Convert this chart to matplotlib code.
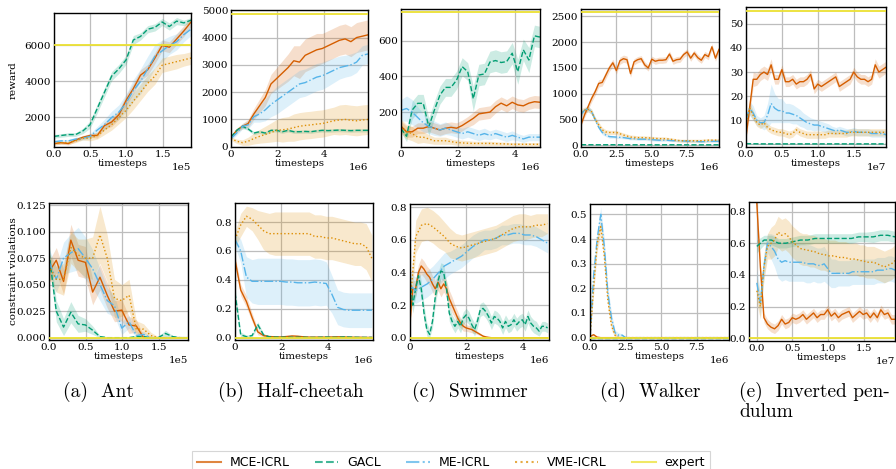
import numpy as np
import matplotlib
matplotlib.use("Agg")
import matplotlib.pyplot as plt
from matplotlib.ticker import MultipleLocator
from matplotlib.lines import Line2D

plt.rcParams["font.family"] = ["DejaVu Serif"]
plt.rcParams["axes.unicode_minus"] = False

methods = ["MCE-ICRL", "GACL", "ME-ICRL", "VME-ICRL"]
colors = ["#d55e00", "#029e73", "#56b4e9", "#de8f05"]
styles = ["-", "--", "-.", ":"]
expert_color = "#ece133"

envs = ["Ant", "Half-cheetah", "Swimmer", "Walker", "Inverted pendulum"]
captions = ["(a)  Ant", "(b)  Half-cheetah", "(c)  Swimmer", "(d)  Walker",
            "(e)  Inverted pen-"]
caption_extra = "dulum"

# training length (timesteps) per environment
max_steps = [1.89e5, 5.9e6, 4.88e6, 9.8e6, 1.94e7]

expert_reward = [6000, 4870, 760, 2590, 55.5]
expert_cv = [0.0, 0.0, 0.0, 0.0, 0.0]

# ---------------- Ant ----------------
ant_rew_mce = [550, 600, 550, 750, 900, 1000, 1000, 1550, 1750, 2150, 2950, 3600, 4350, 4650, 5300, 6000, 5900, 6350, 6800, 7300]
ant_rew_mce_sd = [80, 80, 80, 100, 100, 100, 150, 200, 250, 250, 300, 300, 300, 300, 300, 300, 300, 300, 300, 250]
ant_rew_gacl = [950, 1000, 1050, 1050, 1250, 1600, 2500, 3400, 4300, 4700, 5200, 6300, 6500, 6900, 7000, 7300, 7050, 7350, 7250, 7400]
ant_rew_gacl_sd = [100, 100, 100, 100, 150, 200, 250, 250, 250, 250, 250, 250, 200, 200, 200, 200, 200, 200, 150, 150]
ant_rew_me = [650, 700, 700, 800, 850, 950, 1300, 1600, 2000, 2300, 2800, 3500, 4000, 4700, 5400, 5700, 6000, 6200, 6600, 6900]
ant_rew_me_sd = [80, 80, 80, 100, 100, 150, 200, 300, 350, 400, 500, 600, 700, 700, 650, 600, 500, 450, 400, 350]
ant_rew_vme = [550, 600, 600, 700, 850, 850, 1000, 1300, 1600, 2000, 2400, 2900, 3400, 3900, 4300, 4900, 5000, 5100, 5200, 5300]
ant_rew_vme_sd = [80, 80, 80, 100, 100, 150, 200, 250, 300, 350, 400, 450, 450, 450, 450, 400, 400, 400, 350, 350]

ant_cv_mce = [0.062, 0.073, 0.053, 0.092, 0.073, 0.071, 0.043, 0.057, 0.040, 0.025, 0.026, 0.012, 0.011, 0.0, 0.0, 0.0, 0.0, 0.0, 0.0, 0.0]
ant_cv_mce_sd = [0.010, 0.012, 0.012, 0.015, 0.015, 0.015, 0.012, 0.012, 0.012, 0.010, 0.010, 0.008, 0.006, 0.002, 0.001, 0.001, 0.001, 0.001, 0.001, 0.001]
ant_cv_gacl = [0.080, 0.025, 0.010, 0.024, 0.013, 0.012, 0.007, 0.001, 0.0, 0.0, 0.0, 0.0, 0.001, 0.001, 0.0, 0.0, 0.004, 0.001, 0.0, 0.0]
ant_cv_gacl_sd = [0.010, 0.010, 0.008, 0.010, 0.008, 0.006, 0.004, 0.001, 0.001, 0.001, 0.001, 0.001, 0.001, 0.001, 0.001, 0.001, 0.003, 0.001, 0.001, 0.001]
ant_cv_me = [0.072, 0.055, 0.075, 0.080, 0.084, 0.075, 0.065, 0.050, 0.035, 0.030, 0.009, 0.015, 0.002, 0.003, 0.0, 0.0, 0.0, 0.0, 0.0, 0.0]
ant_cv_me_sd = [0.012, 0.012, 0.015, 0.018, 0.020, 0.020, 0.018, 0.015, 0.012, 0.010, 0.006, 0.006, 0.003, 0.003, 0.001, 0.001, 0.001, 0.001, 0.001, 0.001]
ant_cv_vme = [0.068, 0.055, 0.055, 0.085, 0.078, 0.075, 0.075, 0.097, 0.075, 0.037, 0.035, 0.040, 0.008, 0.008, 0.002, 0.0, 0.0, 0.0, 0.0, 0.0]
ant_cv_vme_sd = [0.012, 0.012, 0.015, 0.015, 0.015, 0.018, 0.020, 0.027, 0.022, 0.018, 0.015, 0.015, 0.008, 0.005, 0.003, 0.001, 0.001, 0.001, 0.001, 0.001]

# ---------------- Half-cheetah ----------------
hc_rew_mce = [350, 600, 750, 850, 1200, 1500, 1800, 2300, 2500, 2700, 2900, 3150, 3100, 3350, 3450, 3550, 3600, 3700, 3800, 3900, 3950, 3850, 4000, 4050, 4100]
hc_rew_mce_sd = [50, 80, 100, 150, 200, 250, 300, 350, 400, 450, 500, 550, 600, 600, 600, 600, 550, 550, 550, 550, 550, 550, 550, 550, 550]
hc_rew_gacl = [350, 600, 750, 650, 500, 550, 500, 600, 600, 550, 600, 550, 550, 560, 550, 580, 600, 590, 600, 610, 600, 590, 600, 600, 600]
hc_rew_gacl_sd = [40, 50, 60, 60, 60, 60, 60, 60, 60, 60, 60, 60, 60, 60, 60, 60, 60, 60, 60, 60, 60, 60, 60, 60, 60]
hc_rew_me = [300, 500, 750, 800, 1100, 1200, 1350, 1550, 1700, 1850, 2000, 2150, 2300, 2350, 2450, 2550, 2600, 2700, 2800, 2900, 2950, 3000, 3100, 3350, 3400]
hc_rew_me_sd = [50, 80, 100, 150, 200, 300, 400, 450, 500, 500, 500, 500, 500, 500, 500, 500, 500, 480, 450, 420, 400, 400, 380, 350, 350]
hc_rew_vme = [300, 200, 150, 200, 300, 380, 450, 520, 600, 620, 650, 700, 750, 780, 800, 830, 850, 900, 950, 980, 1000, 970, 950, 980, 1000]
hc_rew_vme_sd = [60, 80, 100, 150, 200, 250, 300, 350, 400, 450, 450, 500, 500, 500, 500, 500, 500, 500, 500, 550, 550, 550, 550, 550, 550]

hc_cv_mce = [0.54, 0.33, 0.25, 0.14, 0.04, 0.015, 0.008, 0.006, 0.005, 0.008, 0.012, 0.010, 0.006, 0.004, 0.004, 0.004, 0.004, 0.005, 0.006, 0.005, 0.004, 0.003, 0.003, 0.002, 0.002]
hc_cv_mce_sd = [0.03, 0.04, 0.04, 0.03, 0.02, 0.01, 0.005, 0.005, 0.005, 0.005, 0.006, 0.006, 0.005, 0.004, 0.004, 0.004, 0.004, 0.004, 0.004, 0.004, 0.004, 0.003, 0.003, 0.002, 0.002]
hc_cv_gacl = [0.31, 0.02, 0.007, 0.015, 0.09, 0.02, 0.006, 0.004, 0.004, 0.003, 0.003, 0.003, 0.003, 0.002, 0.002, 0.003, 0.004, 0.003, 0.002, 0.005, 0.004, 0.003, 0.002, 0.002, 0.002]
hc_cv_gacl_sd = [0.05, 0.02, 0.01, 0.01, 0.02, 0.01, 0.005, 0.004, 0.004, 0.003, 0.003, 0.003, 0.003, 0.003, 0.003, 0.003, 0.003, 0.003, 0.003, 0.003, 0.003, 0.003, 0.003, 0.003, 0.003]
hc_cv_me = [0.68, 0.60, 0.42, 0.39, 0.39, 0.39, 0.39, 0.39, 0.39, 0.385, 0.385, 0.38, 0.38, 0.38, 0.385, 0.38, 0.375, 0.30, 0.21, 0.195, 0.19, 0.19, 0.19, 0.19, 0.19]
hc_cv_me_sd = [0.05, 0.08, 0.14, 0.15, 0.16, 0.16, 0.16, 0.16, 0.16, 0.16, 0.16, 0.16, 0.16, 0.16, 0.16, 0.16, 0.15, 0.13, 0.12, 0.12, 0.12, 0.12, 0.12, 0.12, 0.12]
hc_cv_vme = [0.68, 0.78, 0.84, 0.82, 0.78, 0.74, 0.72, 0.72, 0.72, 0.72, 0.72, 0.72, 0.72, 0.72, 0.70, 0.70, 0.69, 0.69, 0.68, 0.67, 0.66, 0.65, 0.65, 0.63, 0.55]
hc_cv_vme_sd = [0.05, 0.08, 0.07, 0.08, 0.10, 0.13, 0.14, 0.15, 0.15, 0.15, 0.15, 0.15, 0.15, 0.15, 0.15, 0.15, 0.15, 0.15, 0.15, 0.15, 0.15, 0.15, 0.15, 0.16, 0.16]

# ---------------- Swimmer ----------------
sw_rew_mce = [120, 90, 90, 110, 110, 120, 110, 100, 110, 115, 110, 125, 145, 165, 190, 195, 200, 230, 250, 235, 255, 240, 235, 250, 258, 255]
sw_rew_mce_sd = [30, 30, 30, 30, 30, 30, 30, 30, 30, 30, 30, 30, 30, 35, 35, 35, 35, 35, 35, 35, 35, 35, 35, 35, 35, 35]
sw_rew_gacl = [108, 65, 211, 249, 249, 118, 211, 295, 338, 338, 379, 454, 426, 275, 407, 413, 480, 488, 477, 482, 529, 426, 548, 491, 626, 619]
sw_rew_gacl_sd = [20, 30, 50, 50, 50, 50, 50, 50, 50, 50, 50, 50, 50, 70, 60, 60, 60, 60, 60, 60, 60, 70, 60, 70, 60, 60]
sw_rew_me = [210, 220, 200, 170, 140, 120, 110, 100, 110, 100, 90, 80, 90, 80, 70, 80, 70, 80, 70, 60, 70, 60, 50, 60, 60, 60]
sw_rew_me_sd = [60, 70, 70, 60, 50, 40, 40, 35, 35, 30, 30, 30, 30, 30, 30, 30, 25, 25, 25, 25, 25, 20, 20, 20, 20, 20]
sw_rew_vme = [120, 90, 80, 60, 60, 50, 40, 40, 40, 35, 30, 28, 26, 25, 25, 25, 25, 24, 23, 22, 20, 20, 20, 20, 20, 20]
sw_rew_vme_sd = [40, 40, 40, 35, 30, 25, 20, 20, 20, 15, 15, 15, 15, 12, 12, 12, 12, 10, 10, 10, 10, 10, 10, 10, 10, 10]

sw_cv_mce = [0.10, 0.30, 0.30, 0.40, 0.44, 0.42, 0.39, 0.37, 0.33, 0.30, 0.34, 0.30, 0.33, 0.30, 0.24, 0.20, 0.16, 0.12, 0.09, 0.07,
             0.06, 0.055, 0.05, 0.04, 0.03, 0.02, 0.01, 0.005, 0.002, 0.0, 0.0, 0.0, 0.0, 0.0, 0.0, 0.0, 0.0, 0.0, 0.0, 0.0,
             0.0, 0.0, 0.0, 0.0, 0.0, 0.0, 0.0, 0.0, 0.0, 0.0]
sw_cv_mce_sd = [0.04, 0.05, 0.05, 0.05, 0.05, 0.05, 0.05, 0.05, 0.05, 0.05, 0.05, 0.05, 0.05, 0.05, 0.05, 0.05, 0.04, 0.04, 0.03, 0.03,
                0.02, 0.02, 0.02, 0.015, 0.01, 0.008, 0.005, 0.003, 0.002, 0.001, 0.001, 0.001, 0.001, 0.001, 0.001, 0.001, 0.001, 0.001, 0.001, 0.001,
                0.001, 0.001, 0.001, 0.001, 0.001, 0.001, 0.001, 0.001, 0.001, 0.001]
sw_cv_gacl = [0.35, 0.20, 0.30, 0.38, 0.30, 0.15, 0.05, 0.02, 0.10, 0.25, 0.35, 0.41, 0.40, 0.30, 0.15, 0.10, 0.07, 0.10, 0.07, 0.12,
              0.14, 0.12, 0.08, 0.05, 0.10, 0.17, 0.18, 0.16, 0.13, 0.09, 0.13, 0.12, 0.10, 0.06, 0.10, 0.07, 0.08, 0.11, 0.08, 0.10,
              0.11, 0.08, 0.13, 0.09, 0.07, 0.06, 0.04, 0.07, 0.07, 0.06]
sw_cv_gacl_sd = [0.05, 0.05, 0.05, 0.05, 0.05, 0.05, 0.04, 0.03, 0.04, 0.05, 0.05, 0.05, 0.05, 0.05, 0.05, 0.04, 0.04, 0.04, 0.04, 0.04,
                 0.04, 0.04, 0.04, 0.04, 0.04, 0.04, 0.04, 0.04, 0.04, 0.04, 0.04, 0.04, 0.04, 0.04, 0.04, 0.04, 0.04, 0.04, 0.04, 0.04,
                 0.04, 0.04, 0.04, 0.04, 0.04, 0.04, 0.03, 0.03, 0.03, 0.03]
sw_cv_me = [0.32, 0.29, 0.31, 0.33, 0.36, 0.40, 0.44, 0.46, 0.48, 0.50, 0.53, 0.56, 0.58, 0.60, 0.60, 0.61, 0.63, 0.63, 0.64, 0.64, 0.63, 0.63, 0.62, 0.60, 0.58]
sw_cv_me_sd = [0.08, 0.08, 0.08, 0.08, 0.08, 0.08, 0.08, 0.07, 0.07, 0.07, 0.07, 0.07, 0.07, 0.06, 0.06, 0.06, 0.06, 0.06, 0.06, 0.06, 0.06, 0.06, 0.06, 0.06, 0.06]
sw_cv_vme = [0.20, 0.62, 0.69, 0.70, 0.68, 0.65, 0.62, 0.58, 0.56, 0.55, 0.56, 0.57, 0.58, 0.59, 0.60, 0.61, 0.63, 0.65, 0.67, 0.68, 0.68, 0.68, 0.69, 0.69, 0.70]
sw_cv_vme_sd = [0.08, 0.10, 0.10, 0.10, 0.10, 0.10, 0.09, 0.09, 0.08, 0.08, 0.08, 0.08, 0.08, 0.08, 0.08, 0.08, 0.08, 0.08, 0.08, 0.08, 0.08, 0.07, 0.07, 0.07, 0.06]

# ---------------- Walker ----------------
wa_rew_mce = [400, 590, 750, 910, 1040, 1200, 1220, 1360, 1500, 1600, 1450, 1640, 1680, 1660, 1390, 1620, 1660, 1680, 1560, 1500,
              1670, 1630, 1650, 1650, 1660, 1770, 1630, 1660, 1670, 1760, 1810, 1690, 1790, 1700, 1650, 1760, 1720, 1910, 1690, 1860]
wa_rew_mce_sd = [30, 50, 60, 70, 70, 70, 70, 70, 70, 70, 70, 70, 70, 70, 70, 60, 60, 60, 60, 60,
                 60, 60, 60, 60, 60, 60, 60, 60, 60, 60, 60, 60, 60, 60, 60, 60, 60, 60, 60, 60]
wa_rew_gacl = [13, 11, 12, 10, 11, 10, 11, 10, 10, 11]
wa_rew_gacl_sd = [3, 3, 3, 3, 3, 3, 3, 3, 3, 3]
wa_rew_me = [600, 680, 710, 650, 500, 350, 250, 200, 170, 165, 160, 155, 150, 140, 130, 130, 120, 120, 120, 115,
             110, 105, 100, 100, 100, 95, 90, 90, 90, 85, 80, 80, 80, 75, 70, 75, 80, 80, 80, 80]
wa_rew_me_sd = [60, 50, 60, 50, 50, 40, 40, 30, 30, 25, 25, 25, 25, 25, 25, 25, 25, 25, 25, 25,
                25, 25, 25, 25, 20, 20, 20, 20, 20, 20, 20, 20, 20, 20, 20, 20, 20, 20, 20, 20]
wa_rew_vme = [650, 680, 700, 650, 500, 400, 300, 260, 250, 250, 250, 225, 200, 180, 160, 155, 150, 150, 150, 145,
              140, 135, 130, 130, 130, 120, 110, 100, 90, 90, 90, 90, 90, 90, 90, 95, 100, 100, 100, 100]
wa_rew_vme_sd = [60, 60, 50, 50, 50, 50, 50, 45, 40, 40, 40, 40, 40, 40, 40, 40, 35, 35, 35, 35,
                 35, 35, 35, 35, 30, 30, 30, 30, 30, 30, 30, 30, 30, 30, 30, 30, 30, 30, 30, 30]

wa_cv_mce = [0.005, 0.012, 0.002, 0.0, 0.0, 0.0, 0.0, 0.0, 0.0, 0.0, 0.0, 0.0, 0.0, 0.0, 0.0, 0.0, 0.0, 0.0, 0.0, 0.0,
             0.0, 0.0, 0.0, 0.0, 0.0, 0.0, 0.0, 0.0, 0.0, 0.0, 0.0, 0.0, 0.0, 0.0, 0.0, 0.0, 0.0, 0.0, 0.0, 0.0]
wa_cv_mce_sd = [0.004, 0.005, 0.002, 0.001, 0.001, 0.001, 0.001, 0.001, 0.001, 0.001, 0.001, 0.001, 0.001, 0.001, 0.001, 0.001, 0.001, 0.001, 0.001, 0.001,
                0.001, 0.001, 0.001, 0.001, 0.001, 0.001, 0.001, 0.001, 0.001, 0.001, 0.001, 0.001, 0.001, 0.001, 0.001, 0.001, 0.001, 0.001, 0.001, 0.001]
wa_cv_gacl = [0.0, 0.0, 0.0, 0.0, 0.0, 0.0, 0.0, 0.0, 0.0, 0.0]
wa_cv_gacl_sd = [0.001, 0.001, 0.001, 0.001, 0.001, 0.001, 0.001, 0.001, 0.001, 0.001]
wa_cv_me = [0.0, 0.25, 0.40, 0.50, 0.37, 0.18, 0.08, 0.02, 0.01, 0.01, 0.0, 0.0, 0.0, 0.0, 0.0, 0.0, 0.0, 0.0, 0.0, 0.0,
            0.0, 0.0, 0.0, 0.0, 0.0, 0.0, 0.0, 0.0, 0.0, 0.0, 0.0, 0.0, 0.0, 0.0, 0.0, 0.0, 0.0, 0.0, 0.0, 0.0]
wa_cv_me_sd = [0.005, 0.03, 0.03, 0.03, 0.03, 0.03, 0.02, 0.01, 0.01, 0.005, 0.001, 0.001, 0.001, 0.001, 0.001, 0.001, 0.001, 0.001, 0.001, 0.001,
               0.001, 0.001, 0.001, 0.001, 0.001, 0.001, 0.001, 0.001, 0.001, 0.001, 0.001, 0.001, 0.001, 0.001, 0.001, 0.001, 0.001, 0.001, 0.001, 0.001]
wa_cv_vme = [0.0, 0.20, 0.38, 0.45, 0.33, 0.15, 0.05, 0.01, 0.0, 0.0, 0.0, 0.0, 0.0, 0.0, 0.0, 0.0, 0.0, 0.0, 0.0, 0.0,
             0.0, 0.0, 0.0, 0.0, 0.0, 0.0, 0.0, 0.0, 0.0, 0.0, 0.0, 0.0, 0.0, 0.0, 0.0, 0.0, 0.0, 0.0, 0.0, 0.0]
wa_cv_vme_sd = [0.005, 0.03, 0.03, 0.03, 0.03, 0.03, 0.02, 0.01, 0.005, 0.001, 0.001, 0.001, 0.001, 0.001, 0.001, 0.001, 0.001, 0.001, 0.001, 0.001,
                0.001, 0.001, 0.001, 0.001, 0.001, 0.001, 0.001, 0.001, 0.001, 0.001, 0.001, 0.001, 0.001, 0.001, 0.001, 0.001, 0.001, 0.001, 0.001, 0.001]

# ---------------- Inverted pendulum ----------------
ip_rew_mce = [3, 15, 27, 27, 29, 30, 29, 33, 27, 27, 31, 26, 26, 27, 25, 26, 26, 27, 29, 23,
              25, 24, 25, 26, 27, 28, 24, 25, 26, 27, 30, 28, 27, 27, 26, 27, 33, 30, 31, 32]
ip_rew_mce_sd = [1, 3, 3, 2.5, 2.5, 2.5, 2.5, 2.5, 2, 2, 2, 2, 2, 2, 2, 2, 2, 2, 2, 2,
                 2, 2, 2, 2, 2, 2, 2, 2, 2, 2, 2, 2, 2, 2, 2, 2, 2.5, 2.5, 2.5, 2.5]
ip_rew_gacl = [0.3, 0.2, 0.2, 0.2, 0.2, 0.2, 0.2, 0.2, 0.2, 0.2]
ip_rew_gacl_sd = [0.2, 0.2, 0.2, 0.2, 0.2, 0.2, 0.2, 0.2, 0.2, 0.2]
ip_rew_me = [10, 15, 13, 10, 9, 9, 12, 17, 15, 14, 14, 13, 13, 12.5, 12, 11, 10, 9, 8.5, 8,
             8, 7.5, 7, 6.5, 6, 5.5, 6, 5.5, 5, 5, 5.5, 5, 5, 5, 5, 4.5, 4.5, 4.5, 4.5, 4]
ip_rew_me_sd = [2, 3, 3, 2, 2, 3, 5, 8, 6, 5, 5, 4, 4, 4, 3.5, 3.5, 3, 3, 2.5, 2.5,
                2, 2, 2, 2, 1.5, 1.5, 1.5, 1.5, 1.5, 1.5, 1.5, 1.5, 1.5, 1.5, 1.5, 1.5, 1.5, 1.5, 1.5, 1.5]
ip_rew_vme = [9, 15, 12, 9, 8, 9, 7, 6, 5.5, 5, 5, 4.5, 4, 4.5, 6, 5, 4.5, 4, 4, 4,
              4, 4, 4, 4.5, 4.5, 4.5, 4.5, 4.5, 4.5, 5, 5, 5, 5, 5, 5, 5, 5, 5, 5, 5]
ip_rew_vme_sd = [2, 2.5, 2, 1.5, 1.5, 1.5, 1.5, 1.5, 1.5, 1.5, 1.5, 1.5, 1.5, 1.5, 1.5, 1.5, 1.5, 1.5, 1.5, 1.5,
                 1.5, 1.5, 1.5, 1.5, 1.5, 1.5, 1.5, 1.5, 1.5, 1.5, 1.5, 1.5, 1.5, 1.5, 1.5, 1.5, 1.5, 1.5, 1.5, 1.5]

ip_cv_mce = [0.85, 0.45, 0.13, 0.09, 0.07, 0.06, 0.08, 0.12, 0.09, 0.10, 0.13, 0.12, 0.13, 0.15, 0.12, 0.14, 0.16, 0.13, 0.15, 0.15,
             0.18, 0.14, 0.16, 0.13, 0.15, 0.16, 0.17, 0.13, 0.15, 0.17, 0.15, 0.16, 0.13, 0.16, 0.13, 0.18, 0.15, 0.16, 0.12, 0.12]
ip_cv_mce_sd = [0.02, 0.03, 0.03, 0.03, 0.03, 0.03, 0.03, 0.03, 0.03, 0.03, 0.03, 0.03, 0.03, 0.03, 0.03, 0.03, 0.03, 0.03, 0.03, 0.03,
                0.03, 0.03, 0.03, 0.03, 0.03, 0.03, 0.03, 0.03, 0.03, 0.03, 0.03, 0.03, 0.03, 0.03, 0.03, 0.03, 0.03, 0.03, 0.03, 0.03]
ip_cv_gacl = [0.58, 0.62, 0.62, 0.60, 0.60, 0.61, 0.62, 0.62, 0.63, 0.63, 0.63, 0.63, 0.63, 0.63, 0.64, 0.64, 0.64, 0.65, 0.65, 0.64]
ip_cv_gacl_sd = [0.04, 0.03, 0.03, 0.03, 0.03, 0.03, 0.03, 0.03, 0.03, 0.03, 0.03, 0.03, 0.03, 0.03, 0.03, 0.03, 0.035, 0.035, 0.035, 0.035]
ip_cv_me = [0.35, 0.22, 0.45, 0.60, 0.58, 0.55, 0.50, 0.48, 0.49, 0.48, 0.48, 0.48, 0.48, 0.48, 0.47, 0.47, 0.47, 0.46, 0.46, 0.47,
            0.44, 0.41, 0.41, 0.41, 0.41, 0.41, 0.41, 0.42, 0.42, 0.42, 0.42, 0.42, 0.42, 0.42, 0.43, 0.43, 0.43, 0.44, 0.44, 0.43]
ip_cv_me_sd = [0.08, 0.08, 0.08, 0.06, 0.08, 0.10, 0.12, 0.12, 0.12, 0.12, 0.12, 0.12, 0.12, 0.12, 0.12, 0.12, 0.11, 0.11, 0.11, 0.11,
               0.10, 0.09, 0.09, 0.08, 0.08, 0.08, 0.08, 0.08, 0.08, 0.08, 0.08, 0.08, 0.08, 0.08, 0.08, 0.08, 0.08, 0.08, 0.08, 0.08]
ip_cv_vme = [0.30, 0.20, 0.45, 0.58, 0.60, 0.62, 0.67, 0.65, 0.66, 0.64, 0.61, 0.59, 0.57, 0.56, 0.56, 0.55, 0.55, 0.54, 0.53, 0.53,
             0.52, 0.52, 0.52, 0.51, 0.51, 0.51, 0.50, 0.50, 0.50, 0.49, 0.49, 0.48, 0.48, 0.48, 0.47, 0.46, 0.45, 0.46, 0.47, 0.49]
ip_cv_vme_sd = [0.08, 0.08, 0.08, 0.08, 0.10, 0.10, 0.10, 0.10, 0.10, 0.10, 0.10, 0.10, 0.10, 0.10, 0.10, 0.10, 0.10, 0.10, 0.10, 0.10,
                0.10, 0.10, 0.10, 0.10, 0.10, 0.10, 0.10, 0.10, 0.10, 0.10, 0.10, 0.10, 0.10, 0.10, 0.10, 0.10, 0.10, 0.10, 0.10, 0.10]

reward_runs = [
    [(ant_rew_mce, ant_rew_mce_sd), (ant_rew_gacl, ant_rew_gacl_sd), (ant_rew_me, ant_rew_me_sd), (ant_rew_vme, ant_rew_vme_sd)],
    [(hc_rew_mce, hc_rew_mce_sd), (hc_rew_gacl, hc_rew_gacl_sd), (hc_rew_me, hc_rew_me_sd), (hc_rew_vme, hc_rew_vme_sd)],
    [(sw_rew_mce, sw_rew_mce_sd), (sw_rew_gacl, sw_rew_gacl_sd), (sw_rew_me, sw_rew_me_sd), (sw_rew_vme, sw_rew_vme_sd)],
    [(wa_rew_mce, wa_rew_mce_sd), (wa_rew_gacl, wa_rew_gacl_sd), (wa_rew_me, wa_rew_me_sd), (wa_rew_vme, wa_rew_vme_sd)],
    [(ip_rew_mce, ip_rew_mce_sd), (ip_rew_gacl, ip_rew_gacl_sd), (ip_rew_me, ip_rew_me_sd), (ip_rew_vme, ip_rew_vme_sd)],
]
cv_runs = [
    [(ant_cv_mce, ant_cv_mce_sd), (ant_cv_gacl, ant_cv_gacl_sd), (ant_cv_me, ant_cv_me_sd), (ant_cv_vme, ant_cv_vme_sd)],
    [(hc_cv_mce, hc_cv_mce_sd), (hc_cv_gacl, hc_cv_gacl_sd), (hc_cv_me, hc_cv_me_sd), (hc_cv_vme, hc_cv_vme_sd)],
    [(sw_cv_mce, sw_cv_mce_sd), (sw_cv_gacl, sw_cv_gacl_sd), (sw_cv_me, sw_cv_me_sd), (sw_cv_vme, sw_cv_vme_sd)],
    [(wa_cv_mce, wa_cv_mce_sd), (wa_cv_gacl, wa_cv_gacl_sd), (wa_cv_me, wa_cv_me_sd), (wa_cv_vme, wa_cv_vme_sd)],
    [(ip_cv_mce, ip_cv_mce_sd), (ip_cv_gacl, ip_cv_gacl_sd), (ip_cv_me, ip_cv_me_sd), (ip_cv_vme, ip_cv_vme_sd)],
]

# axis settings per panel
reward_xlim = [(0, 1.89e5), (0, 5.9e6), (0, 4.88e6), (0, 9.8e6), (0, 1.94e7)]
cv_xlim = [(0, 1.9e5), (0, 5.95e6), (0, 4.93e6), (0, 9.77e6), (-0.11e7, 1.94e7)]
x_step = [0.5e5, 2e6, 2e6, 2.5e6, 0.5e7]
reward_ylim = [(360, 7800), (-10, 5010), (5, 776), (-32, 2643), (-1.1, 57)]
reward_ystep = [2000, 1000, 200, 500, 10]
cv_ylim = [(-0.0022, 0.127), (-0.016, 0.932), (-0.014, 0.82), (-0.0095, 0.542), (-0.017, 0.86)]
cv_ystep = [0.025, 0.2, 0.2, 0.1, 0.2]

W, H = 896, 469
fig = plt.figure(figsize=(W / 100, H / 100), dpi=100)

# axes boxes in pixels: left, right, top, bottom
top_boxes = [(54, 191, 13, 147), (231, 368, 10, 147), (401, 540, 9, 147), (581, 719, 9, 147), (746, 886, 7, 147)]
bot_boxes = [(49, 188, 203, 340), (235, 373, 203, 340), (410, 549, 204, 340), (590, 729, 204, 340), (749, 895, 202, 341)]

TICK_FS = 7.5


def make_axes(box):
    l, r, t, b = box
    return fig.add_axes([l / W, 1 - b / H, (r - l) / W, (b - t) / H])


def draw_panel(ax, runs, xmax, expert, xlim, ylim, xstep, ystep, nonneg):
    for (vals, sd), color, ls in zip(runs, colors, styles):
        y = np.asarray(vals, float)
        s = np.asarray(sd, float)
        x = np.linspace(0, xmax, len(y))
        lo = y - s
        if nonneg:
            lo = np.clip(lo, 0, None)
        ax.fill_between(x, lo, y + s, color=color, alpha=0.2, lw=0, zorder=1)
        ax.plot(x, y, color=color, ls=ls, lw=1.0, zorder=2)
    ax.axhline(expert, color=expert_color, lw=1.3, zorder=3)
    ax.set_xlim(*xlim)
    ax.set_ylim(*ylim)
    ax.xaxis.set_major_locator(MultipleLocator(xstep))
    ax.yaxis.set_major_locator(MultipleLocator(ystep))
    ax.ticklabel_format(axis="x", style="sci", scilimits=(0, 0))
    ax.grid(True, color="#bdbdbd", lw=0.9)
    ax.set_axisbelow(True)
    ax.tick_params(length=0, pad=2, labelsize=TICK_FS)
    ax.xaxis.get_offset_text().set_fontsize(TICK_FS)
    for sp in ax.spines.values():
        sp.set_color("black")
        sp.set_linewidth(1.0)
    ax.set_xlabel("timesteps", fontsize=7.3, labelpad=0.5)


for i in range(5):
    ax_r = make_axes(top_boxes[i])
    draw_panel(ax_r, reward_runs[i], max_steps[i], expert_reward[i], reward_xlim[i],
               reward_ylim[i], x_step[i], reward_ystep[i], False)
    ax_c = make_axes(bot_boxes[i])
    draw_panel(ax_c, cv_runs[i], max_steps[i], expert_cv[i], cv_xlim[i],
               cv_ylim[i], x_step[i], cv_ystep[i], True)
    if i == 0:
        ax_r.set_ylabel("reward", fontsize=7.5)
        ax_r.yaxis.set_label_coords(-0.265, 0.5)
        ax_c.set_ylabel("constraint violations", fontsize=7.5)
        ax_c.yaxis.set_label_coords(-0.225, 0.5)

# sub-figure captions
cap_left = [63, 218, 412, 600, 739]
for txt, xl in zip(captions, cap_left):
    fig.text(xl / W, 1 - 397 / H, txt, ha="left", va="baseline", fontsize=14,
             family=["cmr10", "DejaVu Serif"])
fig.text(739 / W, 1 - 416.5 / H, caption_extra, ha="left", va="baseline", fontsize=14,
         family=["cmr10", "DejaVu Serif"])

handles = [Line2D([], [], color=c, ls=s, lw=1.5, alpha=0.75) for c, s in zip(colors, styles)]
handles.append(Line2D([], [], color=expert_color, lw=1.5, alpha=0.75))
labels = methods + ["expert"]
leg = fig.legend(handles, labels, loc="upper center", bbox_to_anchor=(451 / W, 1 - 451 / H),
                 ncol=5, frameon=True, fancybox=False, borderaxespad=0, borderpad=0.4,
                 handlelength=1.9, handletextpad=0.7, columnspacing=2.0,
                 prop={"family": "DejaVu Sans", "size": 9})
leg.get_frame().set_edgecolor("#cccccc")
leg.get_frame().set_linewidth(0.8)

fig.savefig("out.png", dpi=100)
